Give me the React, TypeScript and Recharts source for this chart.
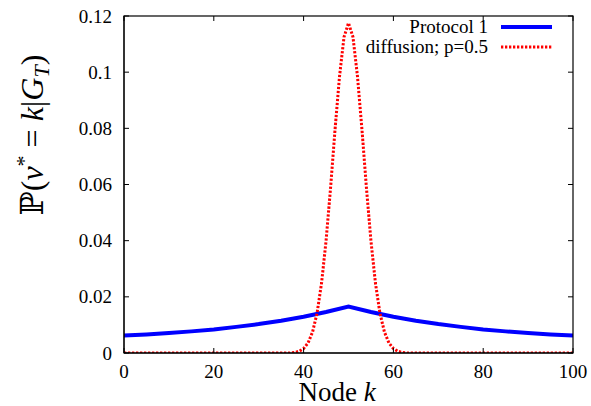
import { LineChart, Line, XAxis, YAxis, Legend } from 'recharts';

// Protocol 1 (read every 5 nodes)
const p1Nodes = [0, 5, 10, 15, 20, 25, 30, 35, 40, 45, 50, 55, 60, 65, 70, 75, 80, 85, 90, 95, 100];
const p1Values = [
  0.0062, 0.0066, 0.0071, 0.0077, 0.0084, 0.0093, 0.0103, 0.0115, 0.0129, 0.0146, 0.0165,
  0.0146, 0.0129, 0.0115, 0.0103, 0.0093, 0.0084, 0.0077, 0.0071, 0.0066, 0.0062,
];

// diffusion; p=0.5 (zero away from the peak)
const diffNodes = [
  0, 37, 38, 39, 40, 41, 42, 43, 44, 45, 46, 47, 48, 49, 50,
  51, 52, 53, 54, 55, 56, 57, 58, 59, 60, 61, 62, 63, 100,
];
const diffValues = [
  0, 0, 0.0002, 0.0006, 0.0016, 0.0036, 0.0075, 0.0142, 0.0249, 0.0399, 0.0587, 0.0795, 0.0985, 0.1125, 0.1175,
  0.1125, 0.0985, 0.0795, 0.0587, 0.0399, 0.0249, 0.0142, 0.0075, 0.0036, 0.0016, 0.0006, 0.0002, 0, 0,
];

const xTicks = [0, 20, 40, 60, 80, 100];
const yTicks = [0, 0.02, 0.04, 0.06, 0.08, 0.1, 0.12];
const yTickLabels = ['0', '0.02', '0.04', '0.06', '0.08', '0.1', '0.12'];

const seriesNames = ['Protocol 1', 'diffusion; p=0.5'];

const p1Data = p1Nodes.map((k, i) => ({ k, v: p1Values[i] }));
const diffData = diffNodes.map((k, i) => ({ k, v: diffValues[i] }));

const FONT = '"Liberation Serif", "DejaVu Serif", serif';

const W = 591;
const H = 406;
const margin = { top: 16, right: 18, bottom: 23, left: 64 };
const Y_AXIS_W = 60;
const X_AXIS_H = 30;
// plot edges (follow from the margins above)
const PL = margin.left + Y_AXIS_W;
const PR = W - margin.right;
const PT = margin.top;
const PB = H - margin.bottom - X_AXIS_H;
const TICK = 5;

function BottomTick(props: any) {
  const { x, payload } = props;
  return (
    <g>
      <line x1={x} x2={x} y1={PB} y2={PB - TICK} stroke="#000" strokeWidth={1} />
      <line x1={x} x2={x} y1={PT} y2={PT + TICK} stroke="#000" strokeWidth={1} />
      <text x={x} y={PB + 25} textAnchor="middle" fontSize={19} fontFamily={FONT} fill="#000">
        {payload.value}
      </text>
    </g>
  );
}

function LeftTick(props: any) {
  const { y, payload } = props;
  const label = yTickLabels[yTicks.indexOf(payload.value)] ?? String(payload.value);
  return (
    <g>
      <line x1={PL} x2={PL + TICK} y1={y} y2={y} stroke="#000" strokeWidth={1} />
      <line x1={PR} x2={PR - TICK} y1={y} y2={y} stroke="#000" strokeWidth={1} />
      <text x={PL - 12} y={y + 6.5} textAnchor="end" fontSize={19} fontFamily={FONT} fill="#000">
        {label}
      </text>
    </g>
  );
}

// plot border drawn over the chart
function Frame() {
  return (
    <svg
      width={W}
      height={H}
      style={{ position: 'absolute', left: 0, top: 0, pointerEvents: 'none' }}
    >
      <rect x={PL} y={PT} width={PR - PL} height={PB - PT} fill="none" stroke="#000" strokeWidth={1.2} />
    </svg>
  );
}

function LegendBox() {
  return (
    <svg width={200} height={40} style={{ overflow: 'visible', fontFamily: FONT }}>
      <text x={128} y={20} textAnchor="end" fontSize={19} fill="#000">{seriesNames[0]}</text>
      <line x1={141} x2={192} y1={14} y2={14} stroke="#0000ff" strokeWidth={4} />
      <text x={128} y={40} textAnchor="end" fontSize={19} fill="#000">{seriesNames[1]}</text>
      <line x1={141} x2={192} y1={34} y2={34} stroke="#ff0000" strokeWidth={3} strokeDasharray="2.3 1.7" />
    </svg>
  );
}

function YLabel() {
  return (
    <text transform="translate(43,135) rotate(-90)" textAnchor="middle" fontSize={32} fontFamily={FONT} fill="#000">
      <tspan>ℙ(</tspan>
      <tspan fontStyle="italic">v</tspan>
      <tspan fontSize={22} dy={-12}>*</tspan>
      <tspan dy={12}> = </tspan>
      <tspan fontStyle="italic">k</tspan>
      <tspan>|</tspan>
      <tspan fontStyle="italic">G</tspan>
      <tspan fontStyle="italic" fontSize={22} dy={6}>T</tspan>
      <tspan dy={-6}>)</tspan>
    </text>
  );
}

function XLabel() {
  return (
    <text x={337} y={401} textAnchor="middle" fontSize={27} fontFamily={FONT} fill="#000">
      <tspan>Node </tspan>
      <tspan fontStyle="italic">k</tspan>
    </text>
  );
}

export default function App() {
  return (
    <div style={{ position: 'absolute', left: 0, top: 0, width: W, height: H, background: '#fff' }}>
      <LineChart width={W} height={H} margin={margin}>
        <XAxis
          dataKey="k"
          type="number"
          domain={[0, 100]}
          ticks={xTicks}
          allowDataOverflow
          height={X_AXIS_H}
          tickLine={false}
          tick={BottomTick}
          axisLine={{ stroke: '#000' }}
          label={{ content: () => <XLabel /> }}
        />
        <YAxis
          type="number"
          domain={[0, 0.12]}
          ticks={yTicks}
          allowDataOverflow
          width={Y_AXIS_W}
          tickLine={false}
          tick={LeftTick}
          axisLine={{ stroke: '#000' }}
          label={{ content: () => <YLabel /> }}
        />
        <Legend
          layout="vertical"
          align="center"
          verticalAlign="middle"
          wrapperStyle={{ position: 'absolute', left: 360, top: 13, width: 200, height: 45 }}
          content={() => <LegendBox />}
        />
        <Line
          data={p1Data}
          dataKey="v"
          name={seriesNames[0]}
          type="linear"
          stroke="#0000ff"
          strokeWidth={4}
          dot={false}
          activeDot={false}
          isAnimationActive={false}
        />
        <Line
          data={diffData}
          dataKey="v"
          name={seriesNames[1]}
          type="linear"
          stroke="#ff0000"
          strokeWidth={3}
          strokeDasharray="2.3 1.7"
          dot={false}
          activeDot={false}
          isAnimationActive={false}
        />
      </LineChart>
      <Frame />
    </div>
  );
}
